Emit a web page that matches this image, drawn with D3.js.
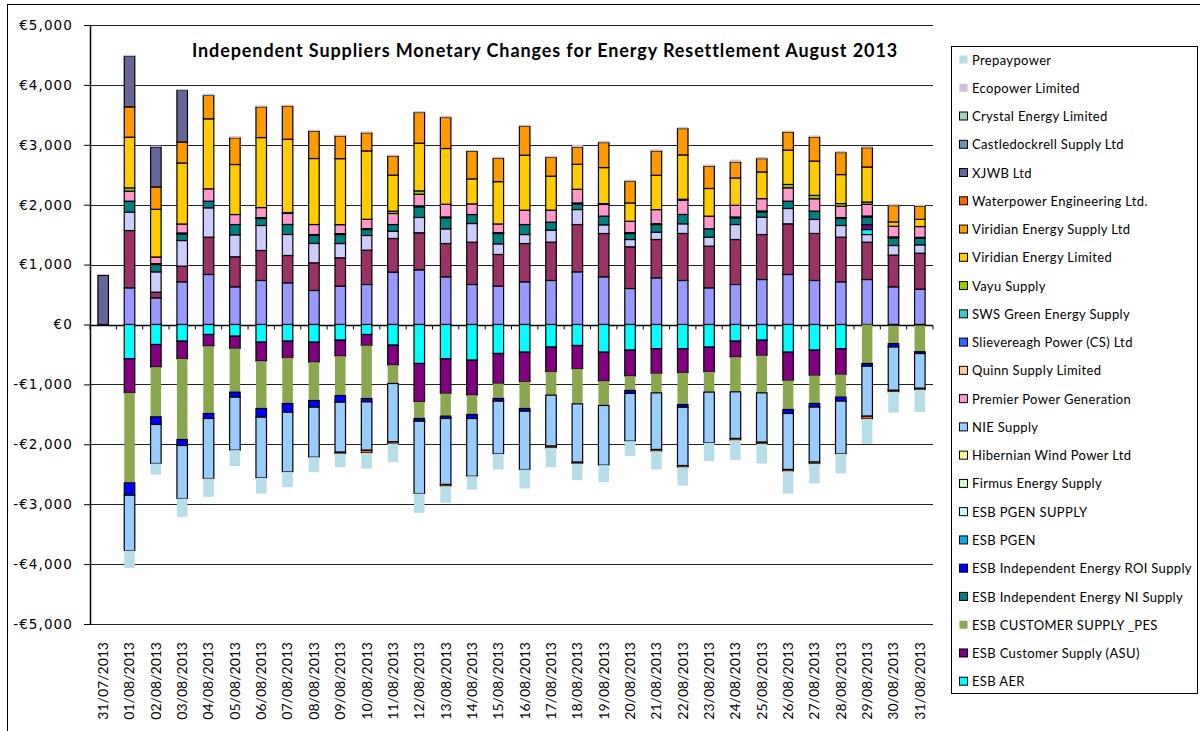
<!DOCTYPE html>
<html>
<head>
<meta charset="utf-8">
<script src="https://cdn.jsdelivr.net/npm/d3@7"></script>
<style>
  body { margin: 0; background: #fff; }
  svg { display: block; }
</style>
</head>
<body>
<div id="grafico"></div>
<script>
const fechas = ["31/07/2013", "01/08/2013", "02/08/2013", "03/08/2013", "04/08/2013", "05/08/2013",
    "06/08/2013", "07/08/2013", "08/08/2013", "09/08/2013", "10/08/2013", "11/08/2013", "12/08/2013",
    "13/08/2013", "14/08/2013", "15/08/2013", "16/08/2013", "17/08/2013", "18/08/2013", "19/08/2013",
    "20/08/2013", "21/08/2013", "22/08/2013", "23/08/2013", "24/08/2013", "25/08/2013", "26/08/2013",
    "27/08/2013", "28/08/2013", "29/08/2013", "30/08/2013", "31/08/2013"];

// series that are stacked but do not fit in the legend box
const serieA = [0, 612, 445, 712, 835, 629, 735, 696, 568, 640, 668, 874, 913, 796, 668, 640, 712, 735, 879, 796, 601, 779, 735, 612, 668, 751, 835, 735, 712, 751, 629, 590];
const serieB = [0, 957, 95, 262, 623, 501, 501, 456, 462, 473, 573, 562, 618, 556, 706, 529, 640, 640, 790, 723, 696, 640, 785, 696, 751, 751, 846, 785, 746, 623, 529, 600];
const serieC = [0, 306, 339, 428, 490, 367, 417, 351, 323, 239, 245, 122, 256, 245, 312, 178, 150, 200, 250, 145, 122, 122, 161, 150, 250, 289, 256, 234, 195, 128, 161, 140];

const esbAer = [0, -573, -334, -278, -167, -195, -295, -278, -295, -262, -167, -345, -651, -573, -596, -484, -462, -378, -351, -462, -428, -406, -406, -378, -278, -262, -462, -428, -406, 83, 0, 0];
const esbAsu = [0, -568, -378, -295, -195, -206, -317, -278, -334, -267, -184, -334, -640, -579, -584, -501, -495, -412, -390, -484, -434, -412, -401, -412, -267, -256, -473, -423, -428, 83, -20, -15];
const esbPes = [0, -1503, -829, -1347, -1124, -729, -790, -763, -640, -657, -885, -306, -278, -378, -323, -250, -445, -390, -584, -406, -239, -323, -529, -339, -579, -623, -484, -467, -378, -651, -300, -440];
const esbNi = [0, 184, 122, 111, 111, 172, 117, 167, 134, 150, 100, 111, 178, 184, 150, 172, 167, 134, 95, 145, 100, 128, 156, 139, 111, 89, 122, 139, 117, 128, 128, 110];
const esbRoi = [0, -206, -128, -100, -83, -83, -145, -145, -111, -111, -56, 0, -45, -39, -67, -45, -45, 0, 0, 0, -50, 0, -45, 0, 0, 0, -67, -61, -67, -45, -56, -30];
const esbPgen = [0, 0, 15, 15, 0, 0, 15, 0, 15, 15, 15, 0, 15, 15, 0, 15, 0, 0, 15, 0, 15, 15, 0, 0, 15, 15, 0, 0, 15, 15, 15, 15];
const nieSupply = [0, -924, -651, -885, -1002, -885, -1013, -996, -835, -835, -807, -974, -1208, -1102, -963, -879, -974, -851, -974, -996, -796, -946, -974, -846, -779, -824, -935, -918, -879, -835, -723, -580];
const premier = [0, 167, 111, 150, 206, 167, 167, 184, 167, 150, 156, 184, 195, 212, 178, 145, 239, 200, 228, 195, 189, 234, 239, 212, 195, 206, 223, 206, 189, 195, 178, 180];
const slievereagh = [0, 0, 0, 0, 0, 0, 0, 15, 0, 0, 0, 0, 0, 0, 0, 0, 0, 0, 0, 15, 0, 0, 15, 0, 0, 0, 0, 0, 0, 0, 0, 0];
const vayu = [0, 55, 0, 0, 0, 0, 0, 0, 0, 0, 0, 39, 56, 0, 0, 0, 0, 0, 0, 0, 0, 0, 0, 0, 0, 0, 56, 56, 45, 39, 0, 0];
const viridianLtd = [0, 846, 796, 1018, 1169, 835, 1169, 1224, 1102, 1102, 1141, 601, 796, 930, 417, 706, 918, 568, 417, 601, 306, 573, 740, 462, 456, 445, 573, 573, 484, 584, 72, 120];
const viridianSupply = [0, 506, 373, 351, 390, 445, 512, 551, 456, 378, 301, 317, 512, 518, 462, 390, 484, 312, 289, 417, 362, 406, 440, 373, 267, 223, 301, 401, 367, 323, 273, 220];
const waterpower = [0, 0, 0, 0, 0, 0, 0, 0, 0, -22, -45, -28, 0, -28, 0, 0, 0, -28, -22, 0, 0, -28, -28, 0, -28, -28, -28, -28, 0, -45, -28, -25];
const xjwb = [820, 846, 668, 862, 0, 0, 0, 0, 0, 0, 0, 0, 0, 0, 0, 0, 0, 0, 0, 0, 0, 0, 0, 0, 0, 0, 0, 0, 0, 0, 0, 0];
const ecopower = [0, 25, 22, 22, 30, 28, 25, 25, 25, 25, 25, 25, 25, 30, 25, 28, 25, 25, 39, 28, 28, 28, 28, 28, 39, 28, 25, 28, 28, 28, 28, 20];
const prepaypower = [0, -289, -184, -306, -306, -267, -262, -256, -250, -228, -262, -312, -323, -278, -223, -262, -317, -323, -278, -284, -250, -306, -306, -306, -334, -328, -373, -328, -328, -417, -345, -370];

// series order as stacked (first = next to zero)
const series = [
    {nombre: null, color: "#9999FF", valores: serieA, borde: true},
    {nombre: null, color: "#993366", valores: serieB, borde: true},
    {nombre: null, color: "#CCCCFF", valores: serieC, borde: true},
    {nombre: "ESB AER", color: "#00FFFF", valores: esbAer, borde: true},
    {nombre: "ESB Customer Supply (ASU)", color: "#800080", valores: esbAsu, borde: true},
    {nombre: "ESB CUSTOMER SUPPLY _PES", color: "#8AA64F", valores: esbPes, borde: false},
    {nombre: "ESB Independent Energy NI Supply", color: "#008080", valores: esbNi, borde: true},
    {nombre: "ESB Independent Energy ROI Supply", color: "#0000FF", valores: esbRoi, borde: true},
    {nombre: "ESB PGEN", color: "#00B0F0", valores: esbPgen, borde: true},
    {nombre: "ESB PGEN SUPPLY", color: "#CCFFFF", valores: null, borde: true},
    {nombre: "Firmus Energy Supply", color: "#CCFFCC", valores: null, borde: true},
    {nombre: "Hibernian Wind Power Ltd", color: "#FFFF99", valores: null, borde: true},
    {nombre: "NIE Supply", color: "#99CCFF", valores: nieSupply, borde: true},
    {nombre: "Premier Power Generation", color: "#FF99CC", valores: premier, borde: true},
    {nombre: "Quinn Supply Limited", color: "#FFCC99", valores: null, borde: true},
    {nombre: "Slievereagh Power (CS) Ltd", color: "#3366FF", valores: slievereagh, borde: true},
    {nombre: "SWS Green Energy Supply", color: "#33CCCC", valores: null, borde: true},
    {nombre: "Vayu Supply", color: "#99CC00", valores: vayu, borde: true},
    {nombre: "Viridian Energy Limited", color: "#FFCC00", valores: viridianLtd, borde: true},
    {nombre: "Viridian Energy Supply Ltd", color: "#FF9900", valores: viridianSupply, borde: true},
    {nombre: "Waterpower Engineering Ltd.", color: "#FF6600", valores: waterpower, borde: true},
    {nombre: "XJWB Ltd", color: "#666699", valores: xjwb, borde: true},
    {nombre: "Castledockrell Supply Ltd", color: "#7391B0", valores: null, borde: true},
    {nombre: "Crystal Energy Limited", color: "#A3D4B8", valores: null, borde: true},
    {nombre: "Ecopower Limited", color: "#CCC0DA", valores: ecopower, borde: false},
    {nombre: "Prepaypower", color: "#B7DEE8", valores: prepaypower, borde: false}
];

const titulo = "Independent Suppliers Monetary Changes for Energy Resettlement August 2013";

const plot = {left: 90, right: 933, top: 25, bottom: 624};

const svg = d3.select("#grafico")
    .append("svg")
    .attr("width", 1200)
    .attr("height", 731);

// marco exterior del grafico
svg.append("rect")
    .attr("x", 7.5).attr("y", 4.5)
    .attr("width", 1300).attr("height", 900)
    .attr("fill", "none")
    .attr("stroke", "#000")
    .attr("stroke-width", 1);

const x = d3.scaleBand()
    .domain(fechas)
    .range([plot.left, plot.right])
    .paddingInner(0.6)
    .paddingOuter(0.3);

const y = d3.scaleLinear()
    .domain([-5000, 5000])
    .range([plot.bottom, plot.top]);

const ticksY = d3.range(-5000, 5001, 1000);
const euro = v => (v < 0 ? "-" : "") + "€" + d3.format(",")(Math.abs(v));

// lineas de rejilla
svg.append("g")
    .selectAll("line")
    .data(ticksY.filter(t => t !== 0))
    .join("line")
    .attr("x1", plot.left).attr("x2", plot.right)
    .attr("y1", d => Math.round(y(d)) + 0.5)
    .attr("y2", d => Math.round(y(d)) + 0.5)
    .attr("stroke", "#222")
    .attr("stroke-width", 1);

// eje Y
const ejeY = svg.append("g")
    .attr("transform", "translate(" + plot.left + ",0)")
    .call(d3.axisLeft(y).tickValues(ticksY).tickSize(6).tickSizeOuter(0).tickPadding(11).tickFormat(euro));
ejeY.select(".domain").attr("stroke", "#000").attr("stroke-width", 1.5);
ejeY.selectAll(".tick line").attr("stroke", "#000");
ejeY.selectAll(".tick text")
    .attr("fill", "#000")
    .style("font-family", "'DejaVu Sans', Verdana, sans-serif")
    .style("font-size", "13.5px")
    .style("letter-spacing", "1.1px");

// linea del cero y marcas de categoria
const y0 = Math.round(y(0)) + 0.5;
svg.append("line")
    .attr("x1", plot.left).attr("x2", plot.right)
    .attr("y1", y0).attr("y2", y0)
    .attr("stroke", "#000")
    .attr("stroke-width", 1.3);

const paso = x.step();
svg.append("g")
    .selectAll("line")
    .data(d3.range(fechas.length + 1))
    .join("line")
    .attr("x1", i => plot.left + i * paso)
    .attr("x2", i => plot.left + i * paso)
    .attr("y1", y0).attr("y2", y0 + 4)
    .attr("stroke", "#000");

// apilado: positivos hacia arriba, negativos hacia abajo
const filas = fechas.map((f, i) => {
    const fila = {fecha: f};
    series.forEach((s, k) => { fila[k] = s.valores ? s.valores[i] : 0; });
    return fila;
});

const pilas = d3.stack()
    .keys(series.map((s, k) => k))
    .offset(d3.stackOffsetDiverging)(filas);

svg.append("g")
    .selectAll("g")
    .data(pilas)
    .join("g")
    .attr("fill", d => series[d.key].color)
    .attr("stroke", d => series[d.key].borde ? "#000" : "none")
    .attr("stroke-width", 1.2)
    .selectAll("rect")
    .data(d => d.filter(p => p[1] !== p[0]))
    .join("rect")
    .attr("x", d => x(d.data.fecha))
    .attr("width", x.bandwidth())
    .attr("y", d => y(d[1]))
    .attr("height", d => y(d[0]) - y(d[1]));

// etiquetas de fechas
svg.append("g")
    .selectAll("text")
    .data(fechas)
    .join("text")
    .attr("transform", d => "translate(" + (x(d) + x.bandwidth() / 2) + ",642) rotate(-90)")
    .attr("text-anchor", "end")
    .attr("dy", "0.35em")
    .style("font-family", "Lato, 'Open Sans', sans-serif")
    .style("font-size", "14px")
    .text(d => d);

// titulo
svg.append("text")
    .attr("x", 545)
    .attr("y", 57)
    .attr("text-anchor", "middle")
    .style("font-family", "Lato, 'Open Sans', sans-serif")
    .style("font-weight", "bold")
    .style("font-size", "18px")
    .style("letter-spacing", "0.9px")
    .text(titulo);

// leyenda
const enLeyenda = series.filter(s => s.nombre).reverse();
svg.append("rect")
    .attr("x", 951.5).attr("y", 46.5)
    .attr("width", 246).attr("height", 647)
    .attr("fill", "#fff")
    .attr("stroke", "#000");

const items = svg.append("g")
    .attr("id", "leyenda")
    .selectAll("g")
    .data(enLeyenda)
    .join("g")
    .attr("transform", (d, i) => "translate(959," + (60 + i * 28.26) + ")");

items.append("rect")
    .attr("x", 0.5).attr("y", -4.5)
    .attr("width", 8).attr("height", 8)
    .attr("fill", d => d.color)
    .attr("stroke", d => d.borde ? "#000" : "none");

items.append("text")
    .attr("x", 13)
    .attr("dy", "0.35em")
    .style("font-family", "Lato, 'Open Sans', sans-serif")
    .style("font-size", "13px")
    .style("letter-spacing", "0.35px")
    .text(d => d.nombre);
</script>
</body>
</html>
